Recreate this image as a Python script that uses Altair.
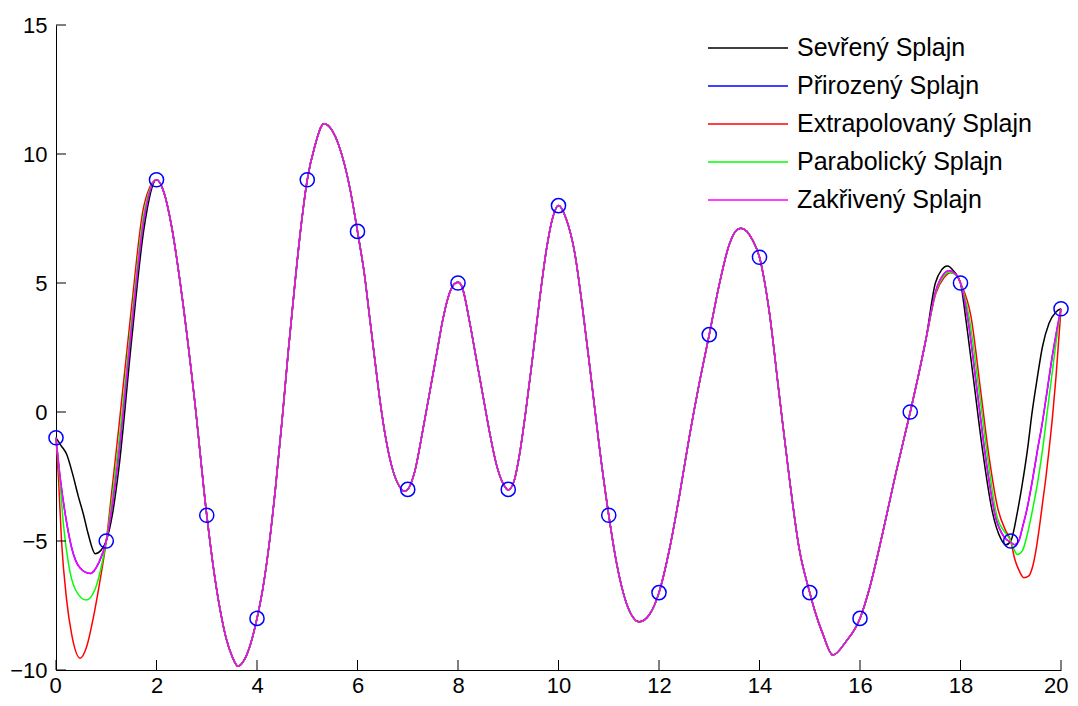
import altair as alt
import pandas as pd

# ---- data ----
pt_x = list(range(21))
pt_y = [-1, -5, 9, -4, -8, 9, 7, -3, 5, -3, 8, -4, -7, 3, 6, -7, -8, 0, 5, -5, 4]

names = ["Sevřený Splajn", "Přirozený Splajn", "Extrapolovaný Splajn",
         "Parabolický Splajn", "Zakřivený Splajn"]
colors = ["#000000", "#0000ff", "#ff0000", "#00ff00", "#ff00ff"]

# part of the curve shared by all five splines (they overlap between x=2 and x~17.3)
mid_x = [2.0, 2.15, 2.3, 2.5, 2.75, 3.0, 3.13, 3.26, 3.39, 3.5,
         3.62, 3.75, 3.87, 4.0, 4.12, 4.25, 4.37, 4.5, 4.62, 4.75,
         4.87, 5.0, 5.15, 5.33, 5.5, 5.75, 5.85, 6.0, 6.14, 6.24,
         6.34, 6.44, 6.57, 6.71, 6.84, 6.93, 7.0, 7.14, 7.3, 7.44,
         7.57, 7.7, 7.83, 7.92, 8.0, 8.08, 8.23, 8.36, 8.5, 8.63,
         8.76, 8.89, 9.0, 9.12, 9.22, 9.36, 9.49, 9.62, 9.76, 9.88,
         10.0, 10.15, 10.32, 10.48, 10.65, 10.81, 11.0, 11.15, 11.35, 11.61,
         11.81, 12.0, 12.21, 12.41, 12.6, 12.8, 13.0, 13.2, 13.4, 13.52,
         13.63, 13.86, 14.0, 14.19, 14.39, 14.59, 14.79, 15.0, 15.1, 15.26,
         15.46, 15.72, 16.0, 16.18, 16.45, 16.71, 17.0, 17.15, 17.31]
mid_y = [9.0, 8.5, 7.2, 4.6, 0.6, -4.0, -6.0, -7.6, -8.8, -9.45,
         -9.85, -9.6, -9.0, -8.0, -6.8, -5.0, -2.9, -0.3, 2.3, 4.9,
         7.1, 9.0, 10.3, 11.17, 10.9, 9.53, 8.66, 7.0, 5.3, 3.7,
         2.1, 0.55, -1.1, -2.3, -2.9, -3.07, -3.0, -2.3, -0.7, 0.8,
         2.2, 3.6, 4.6, 4.95, 5.03, 4.85, 3.5, 2.1, 0.6, -0.8,
         -2.0, -2.75, -3.02, -2.65, -1.7, 0.2, 2.2, 4.3, 6.3, 7.5,
         8.0, 7.5, 6.2, 4.0, 1.3, -1.3, -4.0, -5.8, -7.4, -8.13,
         -7.85, -7.0, -5.3, -3.2, -1.0, 1.1, 3.0, 4.95, 6.5, 7.0,
         7.12, 6.67, 6.0, 3.95, 0.71, -2.5, -5.3, -7.0, -7.7, -8.6,
         -9.42, -8.9, -8.0, -6.9, -4.7, -2.4, 0.0, 1.3, 2.8]

# left ends (x < 2)
black_lx = [0, 0.1, 0.21, 0.33, 0.44, 0.55, 0.64, 0.78, 0.9, 1.0, 1.12, 1.25, 1.5, 1.75]
black_ly = [-1, -1.3, -1.63, -2.4, -3.24, -4.0, -4.72, -5.49, -5.35, -5.0, -4.0, -2.2, 2.7, 7.1]
mag_lx = [0, 0.08, 0.18, 0.31, 0.48, 0.68, 0.85, 1.0, 1.12, 1.25, 1.5, 1.75]
mag_ly = [-1, -2.5, -3.91, -5.25, -6.05, -6.26, -5.85, -5.0, -3.6, -1.63, 3.2, 7.48]
green_lx = [0, 0.08, 0.15, 0.25, 0.38, 0.6, 0.78, 0.91, 1.0, 1.12, 1.25, 1.5, 1.75]
green_ly = [-1, -2.7, -4.4, -5.9, -6.86, -7.29, -6.86, -5.92, -5.0, -3.3, -1.2, 3.5, 7.7]
red_lx = [0, 0.05, 0.11, 0.21, 0.31, 0.48, 0.61, 0.74, 0.87, 1.0, 1.12, 1.25, 1.5, 1.75]
red_ly = [-1, -2.57, -5.0, -7.26, -8.6, -9.54, -9.1, -8.0, -6.6, -5.0, -2.9, -0.6, 4.0, 8.0]

# right ends (x > 17.3)
black_rx = [17.5, 17.62, 17.74, 17.87, 18.0, 18.1, 18.27, 18.44, 18.63, 18.8,
            18.9, 19.0, 19.13, 19.23, 19.33, 19.43, 19.53, 19.63, 19.76, 19.9, 20.0]
black_ry = [5.0, 5.5, 5.66, 5.45, 5.0, 3.69, 1.1, -1.5, -3.83, -4.9,
            -5.15, -5.0, -3.9, -2.79, -1.5, 0.06, 1.35, 2.52, 3.43, 3.88, 4.0]
mag_rx = [17.51, 17.65, 17.77, 17.9, 18.0, 18.14, 18.33, 18.5, 18.7, 18.87, 19.0,
          19.08, 19.16, 19.23, 19.33, 19.43, 19.53, 19.63, 19.73, 19.83, 19.91, 20.0]
mag_ry = [4.7, 5.3, 5.47, 5.35, 5.0, 3.69, 0.84, -1.76, -4.09, -4.85, -5.05,
          -5.15, -5.0, -4.5, -3.7, -2.66, -1.5, -0.4, 0.9, 2.2, 3.1, 4.0]
green_rx = [17.51, 17.66, 17.78, 17.9, 18.0, 18.17, 18.37, 18.54, 18.73, 18.88, 19.0,
            19.06, 19.13, 19.23, 19.33, 19.43, 19.53, 19.63, 19.73, 19.83, 19.93, 20.0]
green_ry = [4.65, 5.25, 5.42, 5.32, 5.0, 3.69, 0.84, -1.76, -4.09, -4.65, -5.0,
            -5.3, -5.52, -5.38, -4.74, -3.83, -2.79, -1.5, 0.06, 1.61, 3.1, 4.0]
red_rx = [17.51, 17.67, 17.8, 17.92, 18.0, 18.21, 18.4, 18.57, 18.75, 18.9, 19.0,
          19.08, 19.17, 19.26, 19.36, 19.43, 19.5, 19.56, 19.63, 19.7, 19.76,
          19.83, 19.9, 20.0]
red_ry = [4.6, 5.2, 5.4, 5.3, 5.0, 3.69, 0.84, -1.76, -3.8, -4.6, -5.0,
          -5.7, -6.16, -6.42, -6.35, -6.03, -5.38, -4.61, -3.57, -2.53, -1.5,
          -0.2, 1.35, 4.0]

x_ticks = [0, 2, 4, 6, 8, 10, 12, 14, 16, 18, 20]
y_ticks = [-10, -5, 0, 5, 10, 15]

# ---- build tables ----
ends = {
    names[0]: (black_lx, black_ly, black_rx, black_ry),
    names[1]: (mag_lx, mag_ly, mag_rx, mag_ry),
    names[2]: (red_lx, red_ly, red_rx, red_ry),
    names[3]: (green_lx, green_ly, green_rx, green_ry),
    names[4]: (mag_lx, mag_ly, mag_rx, mag_ry),
}
rows = []
for n in names:
    lx, ly, rx, ry = ends[n]
    xs = list(lx) + mid_x + list(rx)
    ys = list(ly) + mid_y + list(ry)
    for i, (a, b) in enumerate(zip(xs, ys)):
        rows.append({"serie": n, "x": a, "y": b, "i": i})
lines_df = pd.DataFrame(rows)
pts_df = pd.DataFrame({"x": pt_x, "y": pt_y})

W, H = 1005, 645
FONT = "Liberation Sans"

xs_ = alt.Scale(domain=[0, 20], nice=False, zero=False)
ys_ = alt.Scale(domain=[-10, 15], nice=False, zero=False)
xaxis = alt.Axis(values=x_ticks, ticks=False, labelFont=FONT, labelFontSize=22,
                 labelColor="black", domainColor="black", labelPadding=5,
                 labelFlush=True, labelFlushOffset=7,
                 grid=False, title=None)
yaxis = alt.Axis(values=y_ticks, ticks=False, labelFont=FONT, labelFontSize=22,
                 labelColor="black", domainColor="black", labelPadding=9,
                 grid=False, title=None, labelFlush=False)

color = alt.Color("serie:N", scale=alt.Scale(domain=names, range=colors),
                  legend=alt.Legend(orient="none", legendX=651, legendY=8, title=None,
                                    symbolType="stroke", symbolSize=6400,
                                    symbolStrokeWidth=1.5, labelFont=FONT,
                                    labelFontSize=25, labelColor="black",
                                    labelOffset=8, clipHeight=30, rowPadding=8,
                                    labelLimit=0, padding=0))

layers = []
for n in names:
    layers.append(
        alt.Chart(lines_df).transform_filter(alt.datum.serie == n)
        .mark_line(interpolate="monotone", strokeWidth=1.5)
        .encode(x=alt.X("x:Q", scale=xs_, axis=xaxis),
                y=alt.Y("y:Q", scale=ys_, axis=yaxis),
                color=color, order="i:Q")
    )

points = alt.Chart(pts_df).mark_point(shape="circle", filled=False, size=200,
                                      strokeWidth=1.5, color="#0000ff", opacity=1).encode(
    x=alt.X("x:Q", scale=xs_), y=alt.Y("y:Q", scale=ys_))

xt = alt.Chart(pd.DataFrame({"t": x_ticks})).mark_rule(color="black", strokeWidth=1).encode(
    x=alt.X("t:Q", scale=xs_), y=alt.value(H), y2=alt.value(H - 10))
yt = alt.Chart(pd.DataFrame({"t": y_ticks})).mark_rule(color="black", strokeWidth=1).encode(
    y=alt.Y("t:Q", scale=ys_), x=alt.value(0), x2=alt.value(10))

chart = alt.layer(*layers, points, xt, yt).properties(
    width=W, height=H,
    autosize=alt.AutoSizeParams(type="none"),
    padding={"left": 48, "top": 17, "right": 9, "bottom": 28},
    background="white",
).configure_view(strokeWidth=0)

chart.save("out.html", embed_options={"renderer": "svg", "actions": False})
